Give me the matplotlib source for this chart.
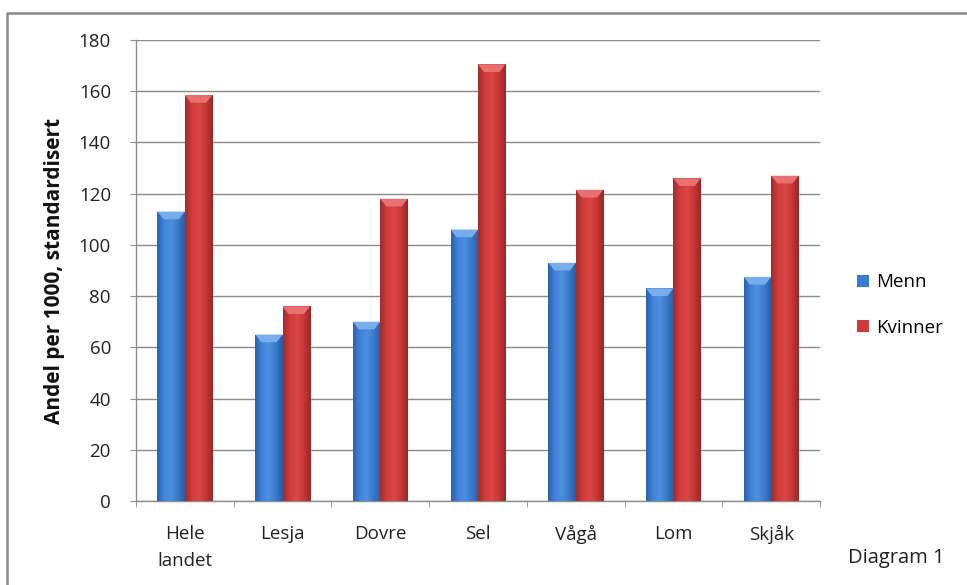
import numpy as np
import matplotlib
matplotlib.use("Agg")
import matplotlib.pyplot as plt
from matplotlib.colors import LinearSegmentedColormap
from matplotlib.lines import Line2D

categories = ["Hele\nlandet", "Lesja", "Dovre", "Sel", "Vågå", "Lom", "Skjåk"]
menn = [113, 65, 70, 106, 93, 83, 87.5]
kvinner = [158.5, 76, 118, 170.5, 121.5, 126, 127]
series_names = ["Menn", "Kvinner"]
yticks = [0, 20, 40, 60, 80, 100, 120, 140, 160, 180]

plt.rcParams["font.family"] = ["Open Sans", "DejaVu Sans"]

W, H = 967, 585
fig = plt.figure(figsize=(W / 100, H / 100), dpi=100)
fig.patch.set_facecolor("white")

# outer chart frame (left and top edges)
fig.add_artist(Line2D([7 / W, 7 / W, 1.0], [0.0, 1 - 12.5 / H, 1 - 12.5 / H],
                      transform=fig.transFigure, color="#8a8a8a", linewidth=1.8))

left, right, top, bottom = 136, 820, 40, 501
ax = fig.add_axes([left / W, 1 - bottom / H, (right - left) / W, (bottom - top) / H])

x = np.arange(len(categories))
bw = 0.28

blue_cmap = LinearSegmentedColormap.from_list(
    "b", ["#2d62ad", "#4083d8", "#4b90e0", "#3b79c9", "#2a5ca3"])
red_cmap = LinearSegmentedColormap.from_list(
    "r", ["#a32c2c", "#d03c3c", "#db4747", "#c83636", "#9a2828"])

bars_m = ax.bar(x - bw / 2, menn, bw, color="#3b7bcf", edgecolor="none",
                label=series_names[0], zorder=3)
bars_k = ax.bar(x + bw / 2, kvinner, bw, color="#d03a3a", edgecolor="none",
                label=series_names[1], zorder=3)

grad = np.linspace(0, 1, 64).reshape(1, -1)
for bars, cmap, cap in ((bars_m, blue_cmap, "#78adec"), (bars_k, red_cmap, "#e97070")):
    for b in bars:
        x0, w, h = b.get_x(), b.get_width(), b.get_height()
        im = ax.imshow(grad, cmap=cmap, aspect="auto",
                       extent=(x0, x0 + w, 0, h), zorder=3.5)
        im.set_clip_path(b)
        # bevelled top cap
        capd = 3.0
        ax.fill([x0, x0 + w, x0 + w * 0.78, x0 + w * 0.22],
                [h, h, h - capd, h - capd], color=cap, zorder=4, lw=0)

ax.set_xlim(-0.5, len(categories) - 0.5)
ax.set_ylim(0, 180)
ax.set_yticks(yticks)
ax.set_xticks(x)
ax.set_xticklabels(categories, fontsize=13.5, color="#222222", linespacing=1.65)
ax.set_xticks(np.arange(len(categories) + 1) - 0.5, minor=True)
ax.tick_params(axis="x", which="major", length=0, pad=17)
ax.tick_params(axis="x", which="minor", length=4, color="#8c8c8c", direction="out")
ax.tick_params(axis="y", length=4, color="#8c8c8c", labelsize=13.5,
               labelcolor="#222222", pad=14)

ax.grid(axis="y", color="#8a8a8a", linewidth=1.0, zorder=0)
ax.set_axisbelow(True)
for s in ("top", "right"):
    ax.spines[s].set_visible(False)
for s in ("left", "bottom"):
    ax.spines[s].set_color("#8c8c8c")
    ax.spines[s].set_linewidth(1.0)

ax.set_ylabel("Andel per 1000, standardisert", fontsize=15, fontweight="bold",
              color="#111111")
ax.yaxis.set_label_coords(-0.104, 0.5)

leg = fig.legend(handles=[bars_m, bars_k], labels=series_names,
                 loc="center left", bbox_to_anchor=(840 / W, 1 - 305 / H),
                 frameon=False, fontsize=13.5, handlelength=0.65, handleheight=0.65,
                 handletextpad=0.35, labelspacing=1.45)

fig.text(848 / W, 1 - 558 / H, "Diagram 1", fontsize=14.5, color="#222222",
         ha="left", va="center")

fig.savefig("out.png", dpi=100, facecolor="white")
